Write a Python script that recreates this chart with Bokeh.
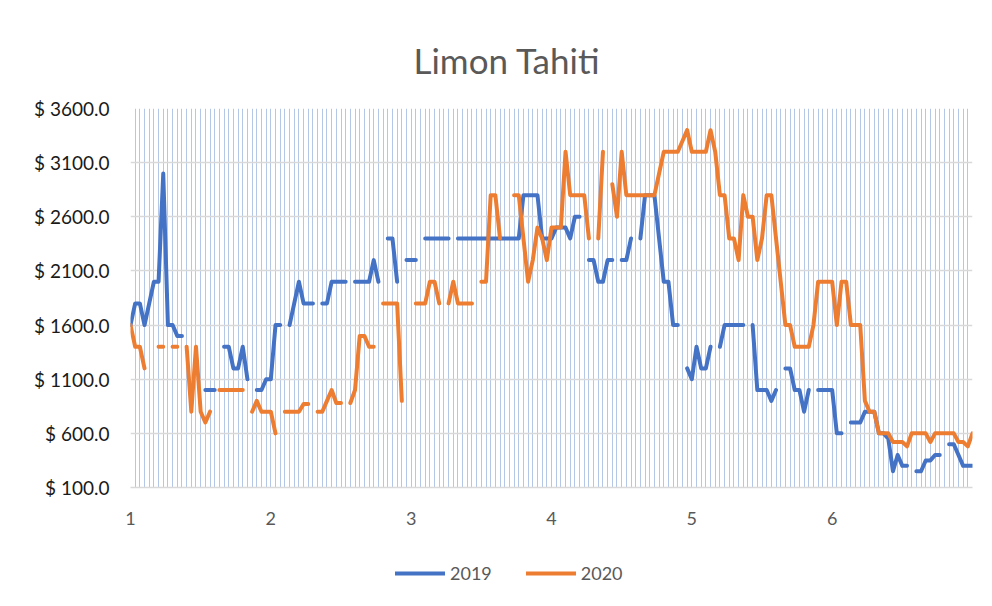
import math
from bokeh.plotting import figure
from bokeh.layouts import column
from bokeh.models import (Range1d, FixedTicker, Legend, LegendItem, ColumnDataSource)
from bokeh.embed import file_html
from bokeh.resources import INLINE

# ---- data (index = daily position; labels 1..6 every 30 positions) ----
month_labels = ["1", "2", "3", "4", "5", "6"]
y_ticks = [100, 600, 1100, 1600, 2100, 2600, 3100, 3600]
series_names = ["2019", "2020"]
series_colors = ["#4472C4", "#ED7D31"]

s2019 = [
    1600, 1800, 1800, 1600, 1800, 2000, 2000, 3000, 1600, 1600,
    1500, 1500, None, None, None, None, 1000, 1000, 1000, None,
    1400, 1400, 1200, 1200, 1400, 1100, None, 1000, 1000, 1100,
    1100, 1600, 1600, None, 1600, 1800, 2000, 1800, 1800, 1800,
    None, 1800, 1800, 2000, 2000, 2000, 2000, None, 2000, 2000,
    2000, 2000, 2200, 2000, None, 2400, 2400, 2000, None, 2200,
    2200, 2200, None, 2400, 2400, 2400, 2400, 2400, 2400, None,
    2400, 2400, 2400, 2400, 2400, 2400, 2400, 2400, 2400, 2400,
    2400, 2400, 2400, 2400, 2800, 2800, 2800, 2800, 2400, 2400,
    2400, 2500, 2500, 2500, 2400, 2600, 2600, None, 2200, 2200,
    2000, 2000, 2200, 2200, None, 2200, 2200, 2400, None, 2400,
    2800, 2800, 2800, 2400, 2000, 2000, 1600, 1600, None, 1200,
    1100, 1400, 1200, 1200, 1400, None, 1400, 1600, 1600, 1600,
    1600, 1600, None, 1600, 1000, 1000, 1000, 900, 1000, None,
    1200, 1200, 1000, 1000, 800, 1000, None, 1000, 1000, 1000,
    1000, 600, 600, None, 700, 700, 700, 800, 800, 800,
    600, 600, 550, 250, 400, 300, 300, None, 250, 250,
    350, 350, 400, 400, None, 500, 500, 400, 300, 300,
    300,
]

s2020 = [
    1600, 1400, 1400, 1200, None, None, 1400, 1400, None, 1400,
    1400, None, 1400, 800, 1400, 800, 700, 800, None, 1000,
    1000, 1000, 1000, 1000, 1000, None, 800, 900, 800, 800,
    800, 600, None, 800, 800, 800, 800, 870, 870, None,
    800, 800, 900, 1000, 880, 880, None, 880, 1000, 1500,
    1500, 1400, 1400, None, 1800, 1800, 1800, 1800, 900, None,
    None, 1800, 1800, 1800, 2000, 2000, 1800, None, 1800, 2000,
    1800, 1800, 1800, 1800, None, 2000, 2000, 2800, 2800, 2400,
    None, None, 2800, 2800, 2400, 2000, 2200, 2500, 2400, 2200,
    2500, 2500, 2500, 3200, 2800, 2800, 2800, 2800, 2400, None,
    2400, 3200, None, 2900, 2600, 3200, 2800, 2800, 2800, 2800,
    2800, 2800, 2800, 3000, 3200, 3200, 3200, 3200, 3300, 3400,
    3200, 3200, 3200, 3200, 3400, 3200, 2800, 2800, 2400, 2400,
    2200, 2800, 2600, 2600, 2200, 2400, 2800, 2800, 2400, 2000,
    1600, 1600, 1400, 1400, 1400, 1400, 1600, 2000, 2000, 2000,
    2000, 1600, 2000, 2000, 1600, 1600, 1600, 900, 800, 800,
    600, 600, 600, 520, 520, 520, 480, 600, 600, 600,
    600, 520, 600, 600, 600, 600, 600, 520, 520, 480,
    600,
]

n = len(s2019)
idx = list(range(n))
per_month = 30


def clean(vals):
    return [float("nan") if v is None else float(v) for v in vals]


src = ColumnDataSource(dict(x=idx, a=clean(s2019), b=clean(s2020)))

FONT = "Lato"

p = figure(frame_width=842, frame_height=379, output_backend="svg", toolbar_location=None,
           x_range=Range1d(0, n - 1), y_range=Range1d(100, 3600),
           min_border_left=130, min_border_right=4, min_border_top=108,
           min_border_bottom=40)

p.title.text = "Limon Tahiti"
p.title.align = "left"
p.title.offset = 283
p.title.standoff = 55
p.title.text_font = FONT
p.title.text_font_size = "35px"
p.title.text_font_style = "normal"
p.title.text_color = "#595959"

p.outline_line_color = None
p.background_fill_color = "white"

# axes
p.xaxis.ticker = FixedTicker(ticks=[i * per_month for i in range(len(month_labels))])
p.xaxis.major_label_overrides = {i * per_month: lab for i, lab in enumerate(month_labels)}
p.xaxis.major_tick_line_color = None
p.xaxis.minor_tick_line_color = None
p.xaxis.axis_line_color = "#D9D9D9"
p.xaxis.axis_line_width = 1.5
p.xaxis.major_label_text_font = FONT
p.xaxis.major_label_text_font_size = "18px"
p.xaxis.major_label_text_color = "#595959"
p.xaxis.major_label_standoff = 18

p.yaxis.ticker = FixedTicker(ticks=y_ticks)
p.yaxis.major_label_overrides = {t: f"$ {t}.0" for t in y_ticks}
p.yaxis.major_tick_line_color = None
p.yaxis.minor_tick_line_color = None
p.yaxis.axis_line_color = None
p.yaxis.major_label_text_font = FONT
p.yaxis.major_label_text_font_size = "19px"
p.yaxis.major_label_text_color = "#1a1a1a"
p.yaxis.major_label_standoff = 15

# grids
p.xgrid.ticker = FixedTicker(ticks=idx)
p.xgrid.grid_line_color = "#B4C7E7"
p.xgrid.grid_line_width = 1
p.ygrid.ticker = FixedTicker(ticks=y_ticks)
p.ygrid.grid_line_color = "#D9D9D9"
p.ygrid.grid_line_width = 1.5

p.line("x", "a", source=src, line_color=series_colors[0], line_width=4,
       line_cap="round", line_join="round")
p.line("x", "b", source=src, line_color=series_colors[1], line_width=4,
       line_cap="round", line_join="round")

# ---- legend strip (separate small figure below the chart) ----
p2 = figure(width=976, height=70, output_backend="svg", toolbar_location=None,
            x_axis_location=None, y_axis_location=None,
            x_range=Range1d(0, 1), y_range=Range1d(0, 1),
            min_border_left=0, min_border_right=0, min_border_top=0,
            min_border_bottom=0)
p2.outline_line_color = None
p2.grid.visible = False

items = []
for name, col in zip(series_names, series_colors):
    # off-range placeholder line: only its legend swatch is visible
    rr = p2.line(x=[-5, -4], y=[-5, -5], line_color=col, line_width=4,
                 line_cap="round")
    items.append(LegendItem(label=name, renderers=[rr]))

legend = Legend(items=items, orientation="horizontal", location=(265, 13))
legend.label_text_font = FONT
legend.label_text_font_size = "18px"
legend.label_text_color = "#595959"
legend.glyph_width = 50
legend.glyph_height = 20
legend.spacing = 34
legend.padding = 4
legend.margin = 0
legend.border_line_color = None
legend.background_fill_alpha = 0
p2.add_layout(legend, "center")

layout = column(p, p2, spacing=0)
open("out.html", "w").write(file_html(layout, INLINE))
